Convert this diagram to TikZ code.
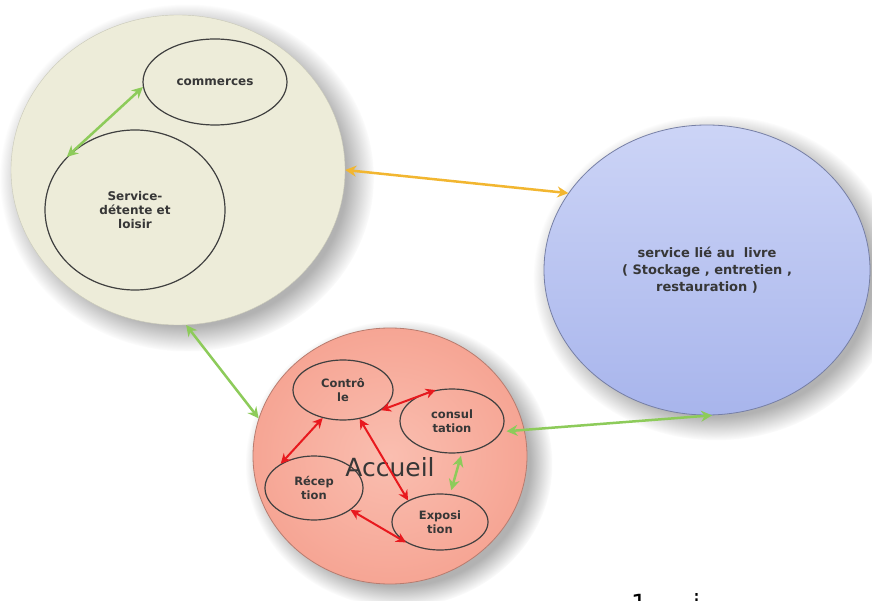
\documentclass[tikz,border=0pt]{standalone}
\usepackage{fontspec}
\setmainfont{DejaVu Sans}
\usetikzlibrary{arrows.meta, shapes.geometric, shadows}
\definecolor{beige}{RGB}{237,236,217}
\definecolor{bleuhaut}{RGB}{204,212,246}
\definecolor{bleubas}{RGB}{168,181,236}
\definecolor{rosein}{RGB}{250,190,176}
\definecolor{roseout}{RGB}{246,165,148}
\definecolor{vert}{RGB}{141,203,90}
\definecolor{jaune}{RGB}{242,182,48}
\definecolor{rouge}{RGB}{232,25,30}
\definecolor{texte}{RGB}{55,55,55}

\begin{document}
\begin{tikzpicture}[x=1pt, y=-1pt]
    % Styles
    \tikzstyle{pole} = [ellipse, inner sep=0pt, align=center, text=texte,
        circular drop shadow={shadow xshift=8pt, shadow yshift=-7pt, shadow scale=1.12, opacity=0.6}]
    \tikzstyle{zone} = [ellipse, draw=black!75, line width=1.2pt, inner sep=0pt, align=center, text=texte,
        font=\bfseries\fontsize{12}{14}\selectfont]
    \tikzstyle{petite} = [zone, font=\bfseries\fontsize{11.5}{13.5}\selectfont]
    \tikzstyle{lien} = [line width=2.5pt, {Stealth[length=11pt, width=11pt]}-{Stealth[length=11pt, width=11pt]}]
    \tikzstyle{lien_rouge} = [draw=rouge, line width=2pt, {Stealth[length=10pt, width=10pt]}-{Stealth[length=10pt, width=10pt]}]

    \useasboundingbox (0,0) rectangle (872,601);
    \fill[white] (0,0) rectangle (872,601);

    % Les trois poles
    \node [pole, fill=beige, draw=beige!85!black, minimum width=334pt, minimum height=310pt] (detente) at (178,170) {};
    \node [pole, top color=bleuhaut, bottom color=bleubas, draw=bleubas!70!black, line width=0.8pt,
        minimum width=326pt, minimum height=290pt, font=\bfseries\fontsize{13}{17}\selectfont] (livre) at (707,270)
        {service lié au \ livre\\( Stockage , entretien ,\\restauration )};
    \node [pole, inner color=rosein, outer color=roseout, draw=roseout!75!black, line width=0.8pt,
        minimum width=274pt, minimum height=256pt] (accueil) at (390,456) {};

    % Zones du pole detente
    \node [zone, minimum width=144pt, minimum height=86pt] (commerces) at (215,82) {commerces};
    \node [zone, minimum width=180pt, minimum height=160pt] (loisir) at (135,210) {Service-\\détente et\\loisir};

    % Zones de l'accueil
    \node [font=\fontsize{25}{25}\selectfont, text=texte] (titre) at (390,467) {Accueil};
    \node [petite, minimum width=100pt, minimum height=60pt] (controle) at (343,390) {Contrô\\le};
    \node [petite, minimum width=104pt, minimum height=64pt] (consultation) at (452,421) {consul\\tation};
    \node [petite, minimum width=98pt, minimum height=64pt] (reception) at (314,488) {Récep\\tion};
    \node [petite, minimum width=96pt, minimum height=56pt] (exposition) at (440,522) {Exposi\\tion};

    % Liens entre les poles
    \draw [lien, draw=jaune, jaune] (detente.0) -- (livre.151);
    \draw [lien, draw=vert, vert] (detente.273) -- (accueil.164);
    \draw [lien, draw=vert, vert, shorten <=-18pt] (accueil.11) -- (livre.272);
    \draw [lien, draw=vert, vert] (commerces.184) -- (loisir.142);

    % Liens internes de l'accueil
    \draw [lien_rouge, rouge] (controle.234) -- (reception.144);
    \draw [lien_rouge, rouge] (controle.332) -- (consultation.118);
    \draw [lien_rouge, rouge] (controle.300) -- (exposition.146);
    \draw [lien_rouge, rouge] (reception.329) -- (exposition.211);
    \draw [lien, draw=vert, vert, shorten <=3pt, shorten >=4pt] (consultation.287) -- (exposition.70);

    % Texte coupe en bas
    \node [anchor=base west, inner sep=0pt, font=\fontsize{25}{25}\selectfont] (pied) at (631,612) {1\hspace{46pt}i};
\end{tikzpicture}
\end{document}
